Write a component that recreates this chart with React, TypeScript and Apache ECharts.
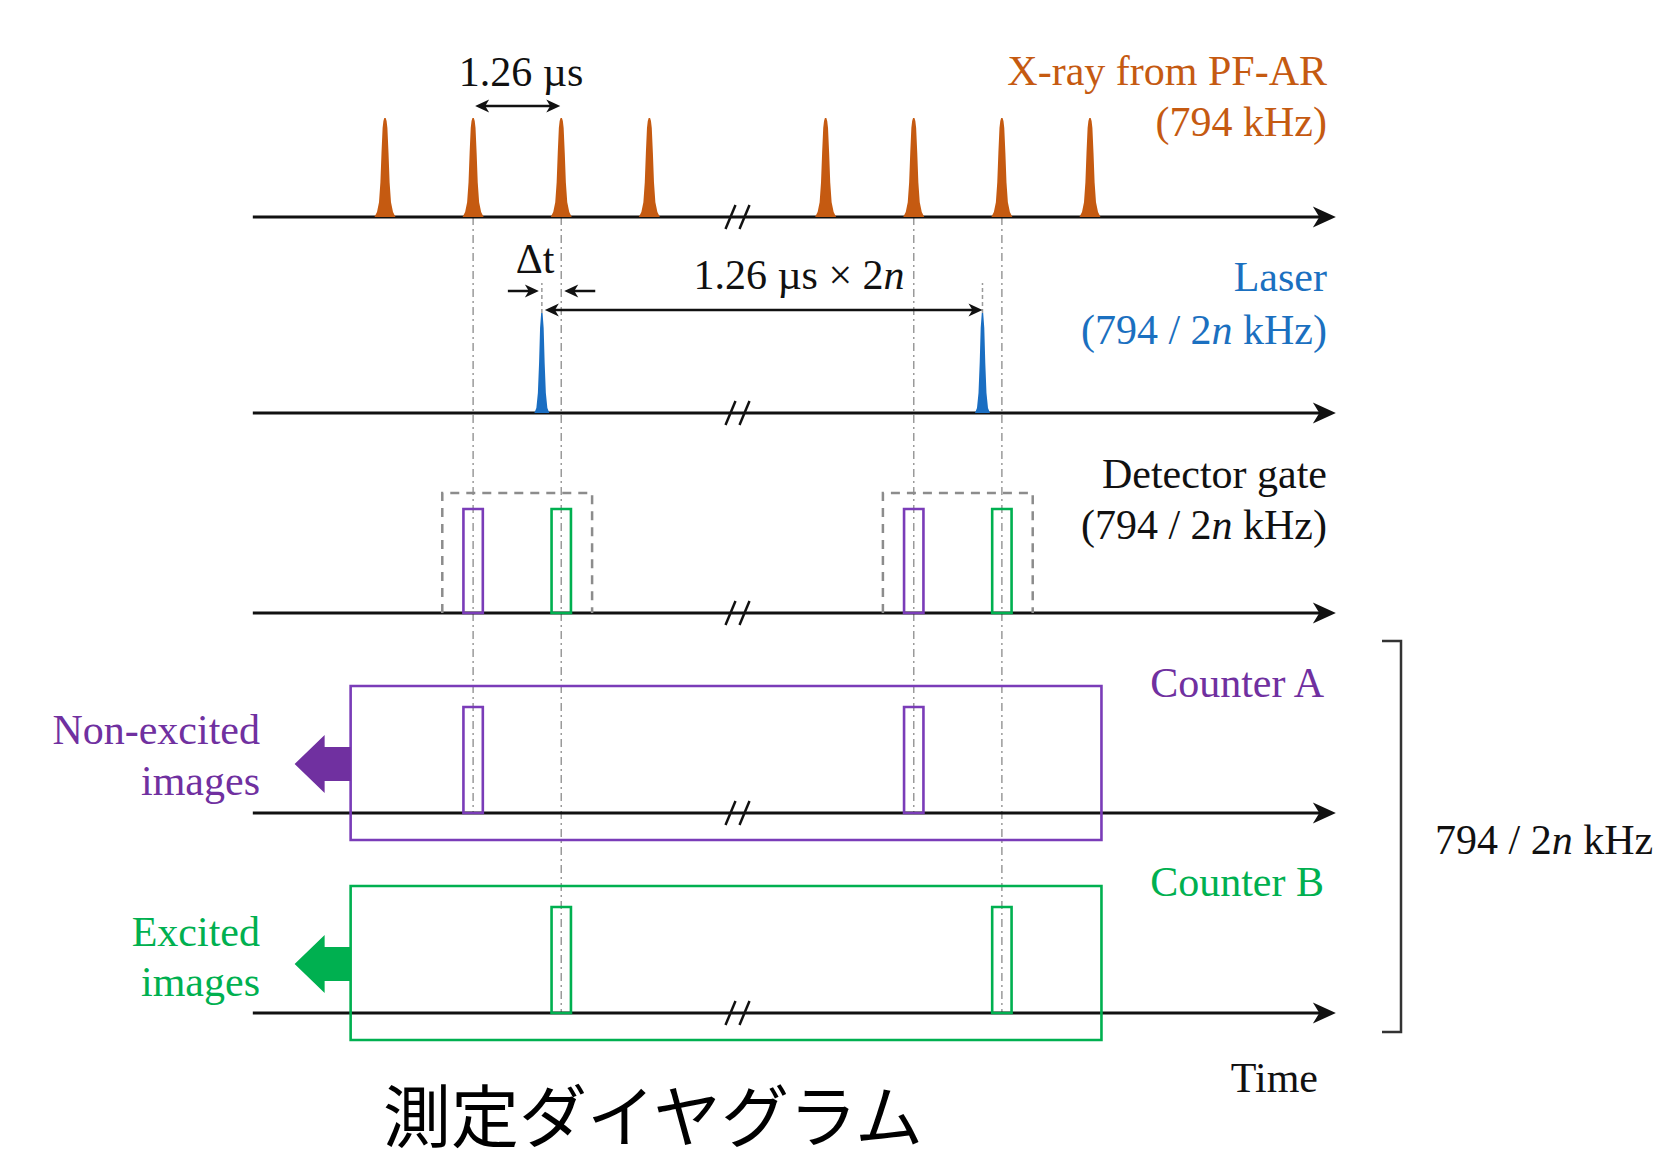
import React, { useEffect, useRef } from "react";
import * as echarts from "echarts";

// ---------------- data (time in units of the X-ray pulse period, 1.26 µs) ----------------
const rowLevels = [7.96, 6, 4, 2, 0]; // X-ray, Laser, Detector gate, Counter A, Counter B
const timeAxisStart = -0.5;
const timeAxisEnd = 11.79;
const timeBreak = 5;

const xrayPulseTimes = [1, 2, 3, 4, 6, 7, 8, 9];
const xrayPulseHeight = 0.99;
const laserPulseTimes = [2.78, 7.78];
const laserPulseHeight = 1.0;

const gateNonExcitedTimes = [2, 7];
const gateExcitedTimes = [3, 8];
const gateWidth = 0.22;
const gateHeight = 1.04;
const gateWindows = [
  [1.65, 3.35],
  [6.65, 8.35],
];
const gateWindowHeight = 1.2;

const counterABarTimes = [2, 7];
const counterBBarTimes = [3, 8];
const counterBarHeight = 1.06;
const counterWindow = [0.61, 9.13];
const counterWindowTop = 1.27;
const counterWindowBottom = -0.27;

// vertical guides: [time, from level, to level]
const guideLines = [
  [2, 7.96, 2],
  [3, 7.96, 0],
  [7, 7.96, 2],
  [8, 7.96, 0],
];

// labels
const xrayLabel = ["X-ray from PF-AR", "(794 kHz)"];
const laserLabel = ["Laser", "(794 / 2{i|n} kHz)"];
const gateLabel = ["Detector gate", "(794 / 2{i|n} kHz)"];
const counterLabels = ["Counter A", "Counter B"];
const imageLabels = [
  ["Non-excited", "images"],
  ["Excited", "images"],
];
const periodLabel = "1.26 µs";
const repeatLabel = "1.26 µs × 2{i|n}";
const deltaLabel = "Δt";
const freqLabel = "794 / 2{i|n} kHz";
const timeLabel = "Time";
const titleText = "測定ダイヤグラム";

// ---------------- styles ----------------
const SERIF = "'Liberation Serif', 'Times New Roman', serif";
const FS = 42;
const COL = {
  black: "#111111",
  orange: "#C55A11",
  blue: "#1A6EC2",
  blueText: "#1B70C0",
  purple: "#7030A0",
  purpleLine: "#7A3CB8",
  green: "#00B050",
  gray: "#8C8C8C",
  guide: "#9A9A9A",
};

const xrayProfile = [
  [0, 10.5],
  [0.05, 8],
  [0.15, 6],
  [0.35, 4.6],
  [0.65, 3.5],
  [0.9, 2.4],
  [0.97, 1.6],
  [1, 0.7],
];
const laserProfile = [
  [0, 7.5],
  [0.05, 5.5],
  [0.2, 4],
  [0.5, 2.8],
  [0.85, 1.8],
  [1, 0.7],
];

function spike(api: any, t: number, level: number, h: number, profile: number[][], color: string) {
  const base = api.coord([t, level]);
  const top = api.coord([t, level + h]);
  const H = base[1] - top[1];
  const pts: number[][] = [];
  for (let i = 0; i < profile.length; i++) pts.push([base[0] - profile[i][1], base[1] - profile[i][0] * H]);
  for (let i = profile.length - 1; i >= 0; i--) pts.push([base[0] + profile[i][1], base[1] - profile[i][0] * H]);
  return { type: "polygon", shape: { points: pts }, style: { fill: color } };
}

function head(x: number, y: number, dir: number, L: number, W: number, color: string) {
  return {
    type: "polygon",
    shape: {
      points: [
        [x, y],
        [x - dir * L, y - W],
        [x - dir * L * 0.72, y],
        [x - dir * L, y + W],
      ],
    },
    style: { fill: color },
  };
}

function hArrow(x1: number, x2: number, y: number, both: boolean) {
  const dir = x2 > x1 ? 1 : -1;
  const L = 14;
  const W = 6.5;
  const children: any[] = [
    {
      type: "line",
      shape: { x1: both ? x1 + dir * 6 : x1, y1: y, x2: x2 - dir * 6, y2: y },
      style: { stroke: COL.black, lineWidth: 2.5 },
    },
    head(x2, y, dir, L, W, COL.black),
  ];
  if (both) children.push(head(x1, y, -dir, L, W, COL.black));
  return children;
}

function txt(text: string, x: number, y: number, color: string, align: string, size = FS, family = SERIF) {
  return {
    type: "text",
    x,
    y,
    silent: true,
    style: {
      text,
      fill: color,
      fontFamily: family,
      fontSize: size,
      lineHeight: size,
      align,
      verticalAlign: "middle",
      rich: {
        i: { fontStyle: "italic", fontFamily: family, fontSize: size, lineHeight: size, fill: color },
      },
    },
  };
}

function buildOption() {
  const [LX, LL, LG, LA, LB] = rowLevels;

  const series: any[] = [
    // guides
    {
      type: "custom",
      silent: true,
      data: guideLines.map((g) => [g[0], g[1], g[2]]),
      renderItem: (_p: any, api: any) => {
        const a = api.coord([api.value(0), api.value(1)]);
        const b = api.coord([api.value(0), api.value(2)]);
        return {
          type: "line",
          shape: { x1: a[0], y1: a[1], x2: b[0], y2: b[1] },
          style: { stroke: COL.guide, lineWidth: 1.5, lineDash: [8, 4, 2, 4] },
        };
      },
    },
    // laser dotted markers
    {
      type: "custom",
      silent: true,
      data: laserPulseTimes.map((t) => [t, LL]),
      renderItem: (_p: any, api: any) => {
        const a = api.coord([api.value(0), api.value(1) + laserPulseHeight]);
        const b = api.coord([api.value(0), api.value(1) + 1.3]);
        return {
          type: "line",
          shape: { x1: a[0], y1: a[1], x2: b[0], y2: b[1] },
          style: { stroke: COL.guide, lineWidth: 1.5, lineDash: [4, 3] },
        };
      },
    },
    // time axes
    {
      type: "custom",
      silent: true,
      data: rowLevels.map((l) => [timeAxisStart, l, timeAxisEnd]),
      renderItem: (_p: any, api: any) => {
        const s = api.coord([api.value(0), api.value(1)]);
        const e = api.coord([api.value(2), api.value(1)]);
        const b = api.coord([timeBreak, api.value(1)]);
        const slash = (cx: number) => ({
          type: "line",
          shape: { x1: cx - 5, y1: b[1] + 12, x2: cx + 5, y2: b[1] - 12 },
          style: { stroke: COL.black, lineWidth: 2.5 },
        });
        return {
          type: "group",
          children: [
            {
              type: "line",
              shape: { x1: s[0], y1: s[1], x2: e[0] - 8, y2: e[1] },
              style: { stroke: COL.black, lineWidth: 3 },
            },
            head(e[0], e[1], 1, 23, 10.5, COL.black),
            slash(b[0] - 7),
            slash(b[0] + 7),
          ],
        };
      },
    },
    // detector gate windows (dashed)
    {
      type: "custom",
      silent: true,
      data: gateWindows.map((w) => [w[0], LG, w[1]]),
      renderItem: (_p: any, api: any) => {
        const l = api.coord([api.value(0), api.value(1)]);
        const r = api.coord([api.value(2), api.value(1) + gateWindowHeight]);
        return {
          type: "polyline",
          shape: {
            points: [
              [l[0], l[1]],
              [l[0], r[1]],
              [r[0], r[1]],
              [r[0], l[1]],
            ],
          },
          style: { stroke: COL.gray, lineWidth: 2.5, lineDash: [9, 7], fill: "none" },
        };
      },
    },
    // detector gates + counter bars
    {
      type: "custom",
      silent: true,
      data: [
        ...gateNonExcitedTimes.map((t) => [t, LG, gateHeight, 0]),
        ...gateExcitedTimes.map((t) => [t, LG, gateHeight, 1]),
        ...counterABarTimes.map((t) => [t, LA, counterBarHeight, 0]),
        ...counterBBarTimes.map((t) => [t, LB, counterBarHeight, 1]),
      ],
      renderItem: (_p: any, api: any) => {
        const t = api.value(0);
        const lv = api.value(1);
        const h = api.value(2);
        const color = api.value(3) === 0 ? COL.purpleLine : COL.green;
        const a = api.coord([t - gateWidth / 2, lv + h]);
        const b = api.coord([t + gateWidth / 2, lv]);
        return {
          type: "rect",
          shape: { x: a[0], y: a[1], width: b[0] - a[0], height: b[1] - a[1] },
          style: { stroke: color, lineWidth: 2.6, fill: "none" },
        };
      },
    },
    // counter windows + output arrows
    {
      type: "custom",
      silent: true,
      data: [
        [counterWindow[0], LA, counterWindow[1], 0],
        [counterWindow[0], LB, counterWindow[1], 1],
      ],
      renderItem: (_p: any, api: any) => {
        const lv = api.value(1);
        const a = api.coord([api.value(0), lv + counterWindowTop]);
        const b = api.coord([api.value(2), lv + counterWindowBottom]);
        const m = api.coord([api.value(0), lv + 0.49]);
        const isA = api.value(3) === 0;
        const stroke = isA ? COL.purpleLine : COL.green;
        const fill = isA ? COL.purple : COL.green;
        const x = a[0];
        const y = m[1];
        return {
          type: "group",
          children: [
            {
              type: "rect",
              shape: { x: a[0], y: a[1], width: b[0] - a[0], height: b[1] - a[1] },
              style: { stroke, lineWidth: 2.6, fill: "none" },
            },
            {
              type: "polygon",
              shape: {
                points: [
                  [x - 56, y],
                  [x - 26, y - 29],
                  [x - 26, y - 17],
                  [x, y - 17],
                  [x, y + 17],
                  [x - 26, y + 17],
                  [x - 26, y + 29],
                ],
              },
              style: { fill },
            },
          ],
        };
      },
    },
    // X-ray pulses
    {
      type: "custom",
      silent: true,
      data: xrayPulseTimes.map((t) => [t, LX]),
      renderItem: (_p: any, api: any) =>
        spike(api, api.value(0), api.value(1), xrayPulseHeight, xrayProfile, COL.orange),
    },
    // laser pulses
    {
      type: "custom",
      silent: true,
      data: laserPulseTimes.map((t) => [t, LL]),
      renderItem: (_p: any, api: any) =>
        spike(api, api.value(0), api.value(1), laserPulseHeight, laserProfile, COL.blue),
    },
    // annotation arrows
    {
      type: "custom",
      silent: true,
      data: [[0]],
      renderItem: (_p: any, api: any) => {
        const p1 = api.coord([xrayPulseTimes[1], LX + 1.11]);
        const p2 = api.coord([xrayPulseTimes[2], LX + 1.11]);
        const r1 = api.coord([laserPulseTimes[0], LL + 1.03]);
        const r2 = api.coord([laserPulseTimes[1], LL + 1.03]);
        const d1 = api.coord([laserPulseTimes[0], LL + 1.22]);
        const d2 = api.coord([xrayPulseTimes[2], LL + 1.22]);
        return {
          type: "group",
          children: [
            ...hArrow(p1[0] + 2, p2[0] - 1, p1[1], true),
            ...hArrow(r1[0] + 3, r2[0], r1[1], true),
            ...hArrow(d1[0] - 34, d1[0] - 3, d1[1], false),
            ...hArrow(d2[0] + 34, d2[0] + 3, d2[1], false),
          ],
        };
      },
    },
  ];

  const graphic: any[] = [
    txt(periodLabel, 521, 72, COL.black, "center"),
    txt(deltaLabel, 535, 259, COL.black, "center"),
    txt(repeatLabel, 799, 275, COL.black, "center"),
    txt(xrayLabel[0], 1327, 71, COL.orange, "right"),
    txt(xrayLabel[1], 1327, 122, COL.orange, "right"),
    txt(laserLabel[0], 1327, 277, COL.blueText, "right"),
    txt(laserLabel[1], 1327, 330, COL.blueText, "right"),
    txt(gateLabel[0], 1327, 474, COL.black, "right"),
    txt(gateLabel[1], 1327, 525, COL.black, "right"),
    txt(counterLabels[0], 1324, 683, COL.purple, "right"),
    txt(counterLabels[1], 1324, 882, COL.green, "right"),
    txt(imageLabels[0][0], 260, 730, COL.purple, "right"),
    txt(imageLabels[0][1], 260, 781, COL.purple, "right"),
    txt(imageLabels[1][0], 260, 932, COL.green, "right"),
    txt(imageLabels[1][1], 260, 982, COL.green, "right"),
    txt(freqLabel, 1435, 840, COL.black, "left"),
    txt(timeLabel, 1318, 1078, COL.black, "right"),
    txt(titleText, 653, 1112, "#000000", "center", 68, "'Noto Sans CJK JP', 'Noto Sans', sans-serif"),
    {
      type: "polyline",
      silent: true,
      shape: {
        points: [
          [1382, 641],
          [1401, 641],
          [1401, 1032],
          [1382, 1032],
        ],
      },
      style: { stroke: "#333333", lineWidth: 2.5, fill: "none" },
    },
  ];

  return {
    animation: false,
    backgroundColor: "#ffffff",
    grid: { left: 32.5, right: 41.25, top: 13, bottom: 8, containLabel: false },
    xAxis: { type: "value", min: -3, max: 15, show: false },
    yAxis: { type: "value", min: -1.4, max: 10, show: false },
    series,
    graphic,
  };
}

export default function App() {
  const ref = useRef<HTMLDivElement>(null);
  useEffect(() => {
    document.body.style.margin = "0";
    if (!ref.current) return;
    const chart = echarts.init(ref.current, null, { renderer: "svg" });
    chart.setOption(buildOption() as any);
    return () => chart.dispose();
  }, []);
  return (
    <div
      ref={ref}
      style={{ position: "fixed", left: 0, top: 0, width: 1660, height: 1161, background: "#ffffff" }}
    />
  );
}
